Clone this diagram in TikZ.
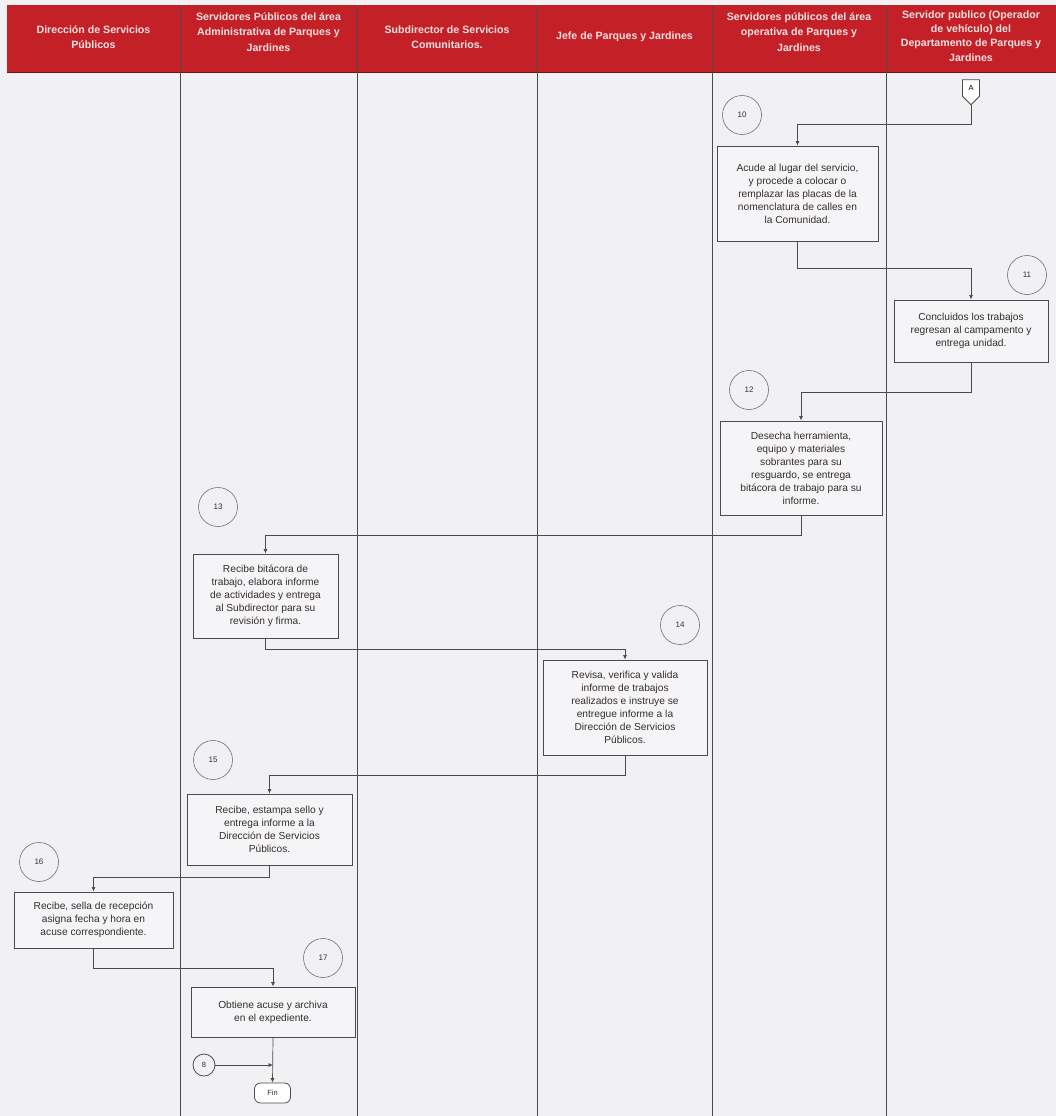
\documentclass[tikz,border=0pt]{standalone}
\usepackage{fontspec}
\setmainfont{Liberation Sans}
\usetikzlibrary{arrows.meta,shapes.symbols}
\definecolor{hdr}{RGB}{196,32,40}
\definecolor{bg}{RGB}{241,241,244}
\definecolor{ln}{RGB}{75,75,75}
\definecolor{htxt}{RGB}{250,226,226}
\definecolor{btxt}{RGB}{55,45,45}
\tikzset{
  lane/.style={draw=ln, line width=0.9pt},
  htext/.style={text=htxt, align=center, font=\bfseries\fontsize{10.6}{15.5}\selectfont},
  stepbox/.style={draw=ln, line width=1pt, fill=bg!70!white, align=center, text=btxt,
    font=\fontsize{10.2}{13}\selectfont, inner sep=2pt},
  num/.style={circle, draw=ln!80, line width=0.6pt, minimum size=39pt, inner sep=0pt,
    text=btxt, font=\fontsize{8}{9}\selectfont},
  flow/.style={draw=ln, line width=0.7pt, -{Latex[length=4.5pt,width=4pt]}},
}
\begin{document}
\begin{tikzpicture}[x=1pt,y=-1pt]
\useasboundingbox (0,0) rectangle (1056,1116);
\fill[bg] (0,0) rectangle (1056,1116);
% header
\fill[hdr] (7,5) rectangle (1056,72);
\draw[hdr!60!black, line width=0.8pt] (7,72) -- (1056,72);
\foreach \xx in {180,357,537,712,886} {\draw[lane] (\xx,5) -- (\xx,1116);}
\node[htext] (h1) at (93.5,37) {Dirección de Servicios\\Públicos};
\node[htext] (h2) at (268.5,32) {Servidores Públicos del área\\Administrativa de Parques y\\Jardines};
\node[htext] (h3) at (447,37) {Subdirector de Servicios\\Comunitarios.};
\node[htext] (h4) at (624.5,37) {Jefe de Parques y Jardines};
\node[htext] (h5) at (799,32) {Servidores públicos del área\\operativa de Parques y\\Jardines};
\node[htext, font=\bfseries\fontsize{10.6}{14.2}\selectfont] (h6) at (971,36) {Servidor publico (Operador\\de vehículo) del\\Departamento de Parques y\\Jardines};
% off-page connector
\node[shape=signal, signal to=south, signal from=nowhere, draw=ln, line width=0.8pt, fill=white,
  minimum width=17pt, minimum height=20pt, inner sep=1pt, font=\fontsize{7.5}{8}\selectfont] (A) at (971,88) {A};
% steps
\node[num] (c10) at (742,115) {10};
\node[stepbox, minimum width=161pt, minimum height=95pt] (b10) at (797.5,193.5)
  {Acude al lugar del servicio,\\y procede a colocar o\\remplazar las placas de la\\nomenclatura de calles en\\la Comunidad.};
\node[num] (c11) at (1027,275) {11};
\node[stepbox, minimum width=154pt, minimum height=62pt] (b11) at (971,331)
  {Concluidos los trabajos\\regresan al campamento y\\entrega unidad.};
\node[num] (c12) at (749,390) {12};
\node[stepbox, minimum width=162pt, minimum height=94pt] (b12) at (801,468)
  {Desecha herramienta,\\equipo y materiales\\sobrantes para su\\resguardo, se entrega\\bitácora de trabajo para su\\informe.};
\node[num] (c13) at (218,507) {13};
\node[stepbox, minimum width=145pt, minimum height=84pt] (b13) at (265.5,596)
  {Recibe bitácora de\\trabajo, elabora informe\\de actividades y entrega\\al Subdirector para su\\revisión y firma.};
\node[num] (c14) at (680,625) {14};
\node[stepbox, minimum width=164pt, minimum height=95pt] (b14) at (625,707.5)
  {Revisa, verifica y valida\\informe de trabajos\\realizados e instruye se\\entregue informe a la\\Dirección de Servicios\\Públicos.};
\node[num] (c15) at (213,760) {15};
\node[stepbox, minimum width=165pt, minimum height=71pt] (b15) at (269.5,829.5)
  {Recibe, estampa sello y\\entrega informe a la\\Dirección de Servicios\\Públicos.};
\node[num] (c16) at (39,862) {16};
\node[stepbox, minimum width=159pt, minimum height=56pt] (b16) at (93.5,920)
  {Recibe, sella de recepción\\asigna fecha y hora en\\acuse correspondiente.};
\node[num] (c17) at (323,958) {17};
\node[stepbox, minimum width=164pt, minimum height=50pt] (b17) at (273,1012)
  {Obtiene acuse y archiva\\en el expediente.};
\node[circle, draw=ln, line width=0.8pt, minimum size=22pt, inner sep=0pt, text=btxt,
  font=\fontsize{7.5}{8}\selectfont] (c8) at (204,1065) {8};
\node[draw=ln, line width=0.8pt, rounded corners=6pt, minimum width=36pt, minimum height=20pt,
  inner sep=1pt, fill=white, text=btxt, font=\fontsize{7.5}{8}\selectfont] (fin) at (272.5,1093) {Fin};
% connectors
\draw[flow] (A.south) -- (A.south |- 0,124) -| (b10.north);
\draw[flow] (b10.south) -- (b10.south |- 0,268) -| (b11.north);
\draw[flow] (b11.south) -- (b11.south |- 0,392) -| (b12.north);
\draw[flow] (b12.south) -- (b12.south |- 0,535) -| (b13.north);
\draw[flow] (b13.south) -- (b13.south |- 0,649) -| (b14.north);
\draw[flow] (b14.south) -- (b14.south |- 0,775) -| (b15.north);
\draw[flow] (b15.south) -- (b15.south |- 0,877) -| (b16.north);
\draw[flow] (b16.south) -- (b16.south |- 0,968) -| (b17.north);
\draw[flow] (b17.south) -- (fin.north);
\draw[flow] (c8.east) -- (c8 -| b17.south);
\end{tikzpicture}
\end{document}
